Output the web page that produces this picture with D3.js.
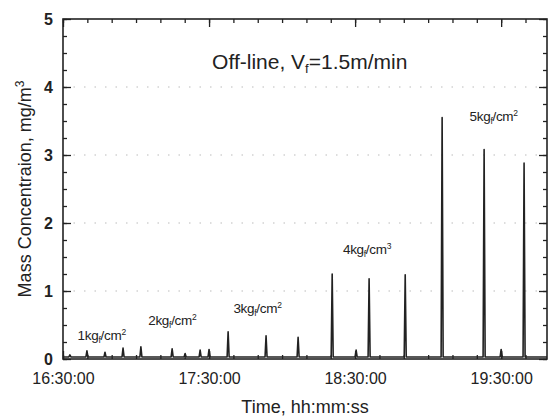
<!DOCTYPE html>
<html>
<head>
<meta charset="utf-8">
<script src="https://cdn.jsdelivr.net/npm/d3@7"></script>
<style>
  body { margin: 0; background: #fff; }
  svg { font-family: "Liberation Sans", Arial, sans-serif; }
</style>
</head>
<body>
<script>
// spike peak times and heights (mg/m3)
const spikeTimes = ["16:32:50", "16:39:50", "16:47:15", "16:54:40", "17:02:00", "17:14:50", "17:20:10",
    "17:26:20", "17:30:00", "17:37:50", "17:53:25", "18:06:35", "18:20:35", "18:30:25", "18:35:45",
    "18:50:35", "19:05:45", "19:23:00", "19:30:00", "19:39:25"];
const spikePeaks = [0.06, 0.12, 0.10, 0.16, 0.18, 0.15, 0.08, 0.13, 0.14, 0.40, 0.34, 0.32, 1.25,
    0.13, 1.18, 1.24, 3.55, 3.08, 0.14, 2.88];
const baseLevel = 0.03;

const xStart = "16:30:00";
const xEnd = "19:48:50";
const xTickLabels = ["16:30:00", "17:30:00", "18:30:00", "19:30:00"];
const yTicks = [0, 1, 2, 3, 4, 5];
const gridValues = [1, 2, 3, 4];

// pressure labels: number, superscript, left time, y value
const annText = ["1", "2", "3", "4", "5"];
const annSup = ["2", "2", "2", "3", "2"];
const annTime = ["16:36:00", "17:05:00", "17:40:00", "18:25:00", "19:17:00"];
const annY = [0.28, 0.5, 0.68, 1.55, 3.5];

const W = 552, H = 417;
const m = { top: 19, right: 5, bottom: 58, left: 63 };
const w = W - m.left - m.right;
const h = H - m.top - m.bottom;
const ink = "#222";

const parse = d3.timeParse("%H:%M:%S");
const fmt = d3.timeFormat("%H:%M:%S");

const svg = d3.select("body").append("svg")
    .attr("width", W)
    .attr("height", H);
const g = svg.append("g").attr("transform", "translate(" + m.left + "," + m.top + ")");

const x = d3.scaleTime().domain([parse(xStart), parse(xEnd)]).range([0, w]);
const y = d3.scaleLinear().domain([0, 5]).range([h, 0]);

// dotted grid
g.selectAll(".grid")
    .data(gridValues)
    .enter()
    .append("line")
    .attr("x1", 0).attr("x2", w)
    .attr("y1", d => y(d)).attr("y2", d => y(d))
    .attr("stroke", "#bbb")
    .attr("stroke-width", 1.2)
    .attr("stroke-dasharray", "1.5,9");

// build trace: baseline with narrow spikes
const pts = [[parse(xStart), baseLevel]];
spikeTimes.forEach((t, i) => {
    const c = parse(t);
    pts.push([new Date(+c - 25000), baseLevel]);
    pts.push([c, spikePeaks[i]]);
    pts.push([new Date(+c + 25000), baseLevel]);
});
pts.push([parse(xEnd), baseLevel]);

g.append("path")
    .datum(pts)
    .attr("fill", "none")
    .attr("stroke", ink)
    .attr("stroke-width", 1.6)
    .attr("stroke-linejoin", "round")
    .attr("d", d3.line().x(d => x(d[0])).y(d => y(d[1])));

// axes
const majorX = xTickLabels.map(parse);
const minorX = d3.timeMinute.every(10).range(parse(xStart), parse(xEnd));
const minorY = d3.range(0, 5.01, 0.25);

function styleAxis(sel) {
    sel.select(".domain").remove();
    sel.selectAll("line").attr("stroke", ink).attr("stroke-width", 1.3);
    sel.selectAll("text").attr("fill", ink);
}

// minor ticks
g.append("g").call(d3.axisBottom(x).tickValues(minorX).tickSize(-4).tickFormat(""))
    .attr("transform", "translate(0," + h + ")").call(styleAxis);
g.append("g").call(d3.axisTop(x).tickValues(minorX).tickSize(-4).tickFormat("")).call(styleAxis);
g.append("g").call(d3.axisLeft(y).tickValues(minorY).tickSize(-4).tickFormat("")).call(styleAxis);
g.append("g").call(d3.axisRight(y).tickValues(minorY).tickSize(-4).tickFormat(""))
    .attr("transform", "translate(" + w + ",0)").call(styleAxis);

// major ticks
g.append("g").attr("id", "x-axis")
    .attr("transform", "translate(0," + h + ")")
    .call(d3.axisBottom(x).tickValues(majorX).tickSize(-8).tickPadding(14).tickFormat(fmt))
    .call(styleAxis)
    .selectAll("text").attr("font-size", 16).attr("font-family", "Liberation Sans, Arial");
g.append("g")
    .call(d3.axisTop(x).tickValues(majorX).tickSize(-8).tickFormat(""))
    .call(styleAxis);
g.append("g").attr("id", "y-axis")
    .call(d3.axisLeft(y).tickValues(yTicks).tickSize(-8).tickPadding(10).tickFormat(d3.format("d")))
    .call(styleAxis)
    .selectAll("text").attr("font-size", 16).attr("font-weight", "bold").attr("font-family", "Liberation Sans, Arial");
g.append("g")
    .attr("transform", "translate(" + w + ",0)")
    .call(d3.axisRight(y).tickValues(yTicks).tickSize(-8).tickFormat(""))
    .call(styleAxis);

// frame
g.append("rect")
    .attr("width", w).attr("height", h)
    .attr("fill", "none")
    .attr("stroke", ink)
    .attr("stroke-width", 1.6);

// title
const title = g.append("text")
    .attr("x", x(parse("17:31:15")))
    .attr("y", 50)
    .attr("font-size", 21)
    .attr("fill", ink);
title.append("tspan").text("Off-line, V");
title.append("tspan").attr("dy", 4).attr("font-size", 13).text("f");
title.append("tspan").attr("dy", -4).text("=1.5m/min");

// pressure labels
annText.forEach((t, i) => {
    const tx = g.append("text")
        .attr("x", x(parse(annTime[i])))
        .attr("y", y(annY[i]))
        .attr("font-size", 13.5)
        .attr("letter-spacing", -0.3)
        .attr("fill", ink);
    tx.append("tspan").text(t + "kg");
    tx.append("tspan").attr("dy", 3).attr("font-size", 8.5).text("f");
    tx.append("tspan").attr("dy", -3).text("/cm");
    tx.append("tspan").attr("dy", -5).attr("font-size", 8.5).text(annSup[i]);
});

// axis titles
svg.append("text")
    .attr("x", m.left + w / 2)
    .attr("y", 413)
    .attr("text-anchor", "middle")
    .attr("font-size", 18)
    .attr("fill", ink)
    .text("Time, hh:mm:ss");

const yl = svg.append("text")
    .attr("transform", "translate(31,189) rotate(-90)")
    .attr("text-anchor", "middle")
    .attr("font-size", 18)
    .attr("fill", ink);
yl.append("tspan").text("Mass Concentraion, mg/m");
yl.append("tspan").attr("dy", -7).attr("font-size", 12).text("3");
</script>
</body>
</html>
